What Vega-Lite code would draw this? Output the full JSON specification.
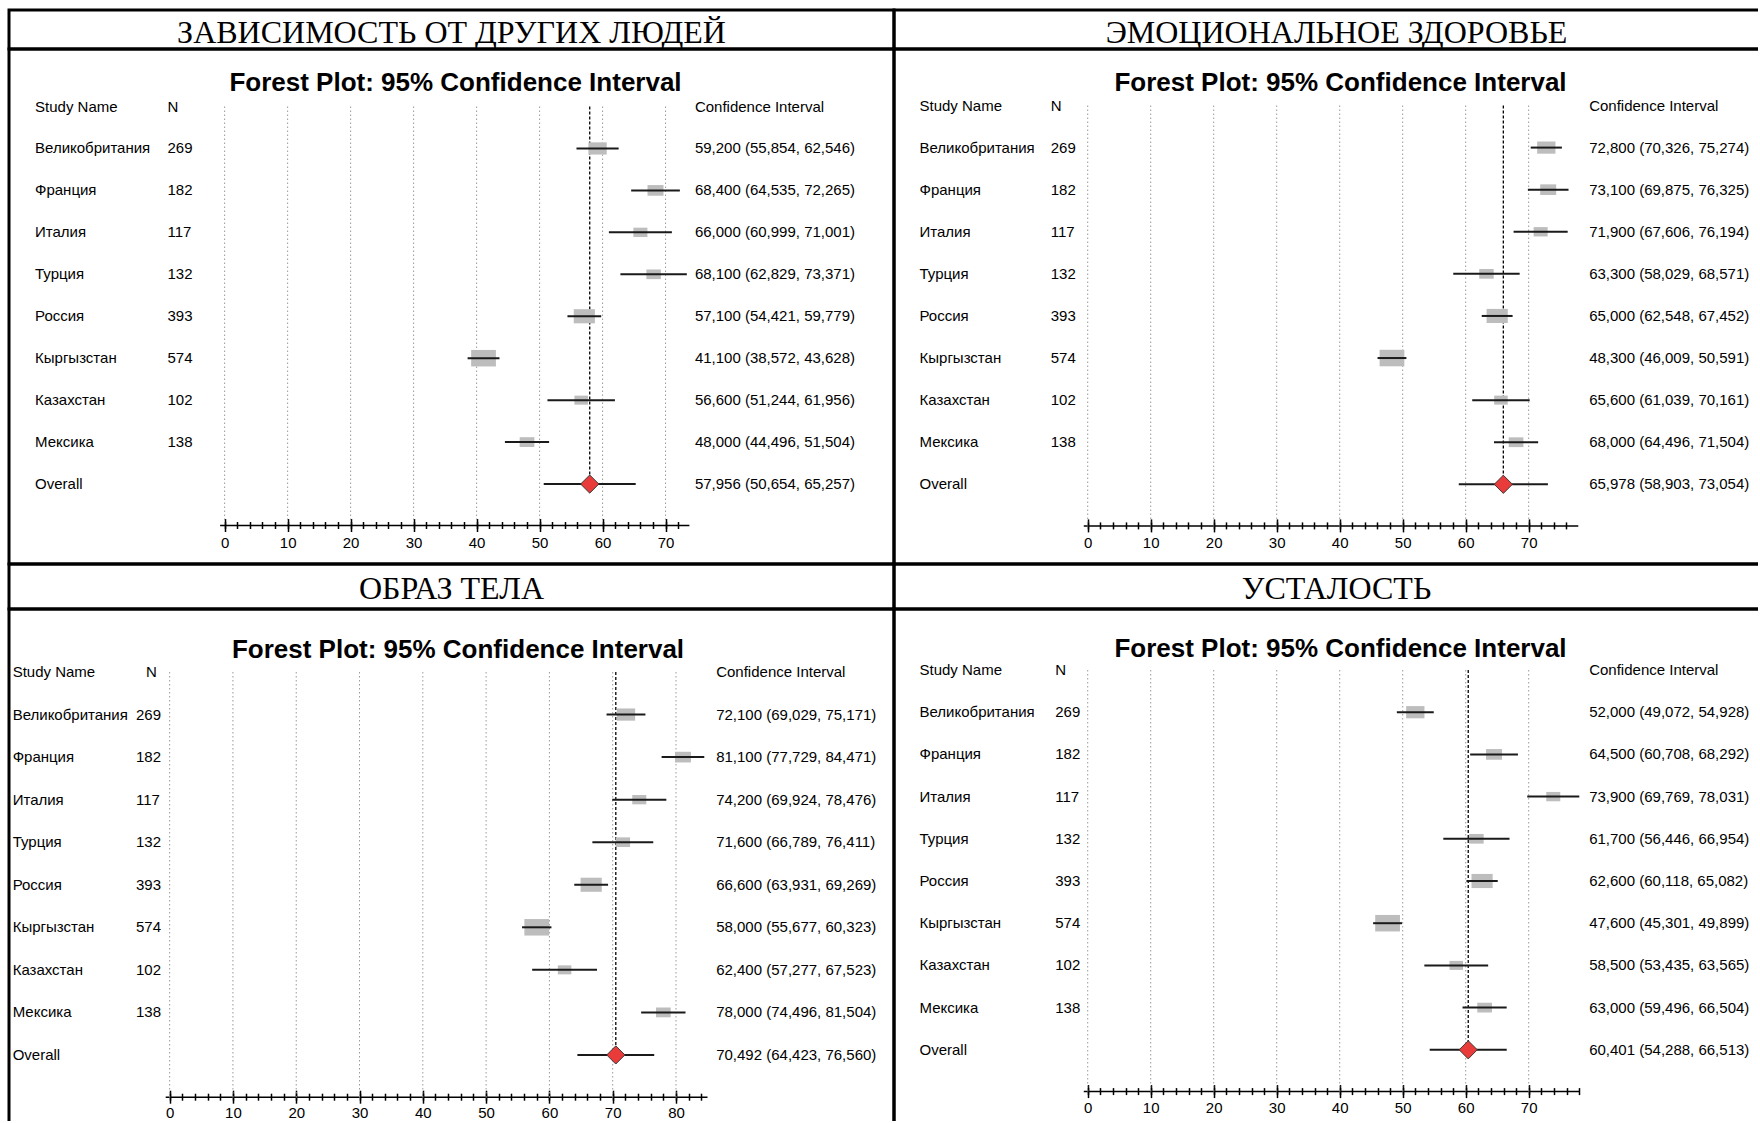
{
  "$schema": "https://vega.github.io/schema/vega-lite/v6.json",
  "background": "white",
  "padding": {"left": 7, "top": 8, "right": -23, "bottom": -5},
  "columns": 2,
  "spacing": 0,
  "bounds": "flush",
  "config": {
    "concat": {"spacing": 0},
    "view": {"stroke": "black", "strokeWidth": 3},
    "text": {"font": "Liberation Sans, Arial, sans-serif", "fontSize": 15, "color": "black"},
    "axis": {"title": null, "grid": false, "labelFont": "Liberation Sans, Arial, sans-serif", "labelFontSize": 15, "labelColor": "black", "domainColor": "black", "tickColor": "black", "labelFlush": false, "labelOverlap": false},
    "title": {"font": "Liberation Sans", "fontSize": 26, "fontWeight": "bold", "color": "black", "anchor": "middle", "baseline": "middle"}
  },
  "datasets": {
    "dep": [
      {"study": "Великобритания", "n": 269, "mean": 59.2, "lo": 55.854, "hi": 62.546, "ci": "59,200 (55,854, 62,546)"},
      {"study": "Франция", "n": 182, "mean": 68.4, "lo": 64.535, "hi": 72.265, "ci": "68,400 (64,535, 72,265)"},
      {"study": "Италия", "n": 117, "mean": 66.0, "lo": 60.999, "hi": 71.001, "ci": "66,000 (60,999, 71,001)"},
      {"study": "Турция", "n": 132, "mean": 68.1, "lo": 62.829, "hi": 73.371, "ci": "68,100 (62,829, 73,371)"},
      {"study": "Россия", "n": 393, "mean": 57.1, "lo": 54.421, "hi": 59.779, "ci": "57,100 (54,421, 59,779)"},
      {"study": "Кыргызстан", "n": 574, "mean": 41.1, "lo": 38.572, "hi": 43.628, "ci": "41,100 (38,572, 43,628)"},
      {"study": "Казахстан", "n": 102, "mean": 56.6, "lo": 51.244, "hi": 61.956, "ci": "56,600 (51,244, 61,956)"},
      {"study": "Мексика", "n": 138, "mean": 48.0, "lo": 44.496, "hi": 51.504, "ci": "48,000 (44,496, 51,504)"},
      {"study": "Overall", "mean": 57.956, "lo": 50.654, "hi": 65.257, "ci": "57,956 (50,654, 65,257)"}
    ],
    "emo": [
      {"study": "Великобритания", "n": 269, "mean": 72.8, "lo": 70.326, "hi": 75.274, "ci": "72,800 (70,326, 75,274)"},
      {"study": "Франция", "n": 182, "mean": 73.1, "lo": 69.875, "hi": 76.325, "ci": "73,100 (69,875, 76,325)"},
      {"study": "Италия", "n": 117, "mean": 71.9, "lo": 67.606, "hi": 76.194, "ci": "71,900 (67,606, 76,194)"},
      {"study": "Турция", "n": 132, "mean": 63.3, "lo": 58.029, "hi": 68.571, "ci": "63,300 (58,029, 68,571)"},
      {"study": "Россия", "n": 393, "mean": 65.0, "lo": 62.548, "hi": 67.452, "ci": "65,000 (62,548, 67,452)"},
      {"study": "Кыргызстан", "n": 574, "mean": 48.3, "lo": 46.009, "hi": 50.591, "ci": "48,300 (46,009, 50,591)"},
      {"study": "Казахстан", "n": 102, "mean": 65.6, "lo": 61.039, "hi": 70.161, "ci": "65,600 (61,039, 70,161)"},
      {"study": "Мексика", "n": 138, "mean": 68.0, "lo": 64.496, "hi": 71.504, "ci": "68,000 (64,496, 71,504)"},
      {"study": "Overall", "mean": 65.978, "lo": 58.903, "hi": 73.054, "ci": "65,978 (58,903, 73,054)"}
    ],
    "body": [
      {"study": "Великобритания", "n": 269, "mean": 72.1, "lo": 69.029, "hi": 75.171, "ci": "72,100 (69,029, 75,171)"},
      {"study": "Франция", "n": 182, "mean": 81.1, "lo": 77.729, "hi": 84.471, "ci": "81,100 (77,729, 84,471)"},
      {"study": "Италия", "n": 117, "mean": 74.2, "lo": 69.924, "hi": 78.476, "ci": "74,200 (69,924, 78,476)"},
      {"study": "Турция", "n": 132, "mean": 71.6, "lo": 66.789, "hi": 76.411, "ci": "71,600 (66,789, 76,411)"},
      {"study": "Россия", "n": 393, "mean": 66.6, "lo": 63.931, "hi": 69.269, "ci": "66,600 (63,931, 69,269)"},
      {"study": "Кыргызстан", "n": 574, "mean": 58.0, "lo": 55.677, "hi": 60.323, "ci": "58,000 (55,677, 60,323)"},
      {"study": "Казахстан", "n": 102, "mean": 62.4, "lo": 57.277, "hi": 67.523, "ci": "62,400 (57,277, 67,523)"},
      {"study": "Мексика", "n": 138, "mean": 78.0, "lo": 74.496, "hi": 81.504, "ci": "78,000 (74,496, 81,504)"},
      {"study": "Overall", "mean": 70.492, "lo": 64.423, "hi": 76.560, "ci": "70,492 (64,423, 76,560)"}
    ],
    "fatigue": [
      {"study": "Великобритания", "n": 269, "mean": 52.0, "lo": 49.072, "hi": 54.928, "ci": "52,000 (49,072, 54,928)"},
      {"study": "Франция", "n": 182, "mean": 64.5, "lo": 60.708, "hi": 68.292, "ci": "64,500 (60,708, 68,292)"},
      {"study": "Италия", "n": 117, "mean": 73.9, "lo": 69.769, "hi": 78.031, "ci": "73,900 (69,769, 78,031)"},
      {"study": "Турция", "n": 132, "mean": 61.7, "lo": 56.446, "hi": 66.954, "ci": "61,700 (56,446, 66,954)"},
      {"study": "Россия", "n": 393, "mean": 62.6, "lo": 60.118, "hi": 65.082, "ci": "62,600 (60,118, 65,082)"},
      {"study": "Кыргызстан", "n": 574, "mean": 47.6, "lo": 45.301, "hi": 49.899, "ci": "47,600 (45,301, 49,899)"},
      {"study": "Казахстан", "n": 102, "mean": 58.5, "lo": 53.435, "hi": 63.565, "ci": "58,500 (53,435, 63,565)"},
      {"study": "Мексика", "n": 138, "mean": 63.0, "lo": 59.496, "hi": 66.504, "ci": "63,000 (59,496, 66,504)"},
      {"study": "Overall", "mean": 60.401, "lo": 54.288, "hi": 66.513, "ci": "60,401 (54,288, 66,513)"}
    ]
  },
  "concat": [
    {"width": 885, "height": 39,
     "layer": [{"data": {"values": [{"t": "ЗАВИСИМОСТЬ ОТ ДРУГИХ ЛЮДЕЙ"}]},
       "mark": {"type": "text", "font": "Liberation Serif", "fontSize": 32, "baseline": "middle", "color": "black"},
       "encoding": {
         "x": {"datum": 0.5, "type": "quantitative", "scale": {"domain": [0, 1]}, "axis": null},
         "y": {"datum": 0.42, "type": "quantitative", "scale": {"domain": [0, 1]}, "axis": null},
         "text": {"field": "t"}}}]},
    {"width": 885, "height": 39,
     "layer": [{"data": {"values": [{"t": "ЭМОЦИОНАЛЬНОЕ ЗДОРОВЬЕ"}]},
       "mark": {"type": "text", "font": "Liberation Serif", "fontSize": 32, "baseline": "middle", "color": "black"},
       "encoding": {
         "x": {"datum": 0.5, "type": "quantitative", "scale": {"domain": [0, 1]}, "axis": null},
         "y": {"datum": 0.42, "type": "quantitative", "scale": {"domain": [0, 1]}, "axis": null},
         "text": {"field": "t"}}}]},
    {
      "width": 885, "height": 515,
      "title": {"text": "Forest Plot: 95% Confidence Interval", "offset": -47, "dx": 4},
      "data": {"name": "dep"},
      "resolve": {"axis": {"x": "independent"}},
      "layer": [
        {
          "data": {"values": [{"v": 0}, {"v": 10}, {"v": 20}, {"v": 30}, {"v": 40}, {"v": 50}, {"v": 60}, {"v": 70}]},
          "mark": {"type": "rule", "stroke": "#9a9a9a", "strokeWidth": 1, "strokeDash": [1.5, 2.5]},
          "encoding": {
            "x": {"field": "v", "type": "quantitative",
                  "scale": {"domain": [-0.8, 73.7], "range": [210.6, 679.9], "nice": false, "zero": false},
                  "axis": {"orient": "bottom", "offset": -39, "values": [0, 10, 20, 30, 40, 50, 60, 70], "ticks": false, "tickSize": 0, "domainWidth": 1.5, "labelPadding": 10}},
            "y": {"datum": "Study Name", "type": "nominal",
                  "scale": {"type": "point", "domain": ["Study Name", "Великобритания", "Франция", "Италия", "Турция", "Россия", "Кыргызстан", "Казахстан", "Мексика", "Overall", "axis"], "range": [57.5, 477], "padding": 0},
                  "axis": null},
            "y2": {"datum": "axis"}
          }
        },
        {
          "transform": [{"filter": "datum.study === 'Overall'"}],
          "mark": {"type": "rule", "stroke": "black", "strokeWidth": 1.3, "strokeDash": [3, 2]},
          "encoding": {
            "x": {"field": "mean", "type": "quantitative",
                  "axis": {"orient": "bottom", "offset": -45.5, "values": [0, 10, 20, 30, 40, 50, 60, 70], "domain": false, "labels": false, "tickSize": 13, "tickWidth": 1.5}},
            "y": {"datum": "Study Name", "type": "nominal", "axis": null},
            "y2": {"datum": "Overall"}
          }
        },
        {
          "transform": [{"filter": "datum.study !== 'Overall'"}],
          "mark": {"type": "point", "shape": "M-1.5,-1L1.5,-1L1.5,1L-1.5,1Z", "filled": true, "fill": "#bdbdbd", "opacity": 1, "strokeWidth": 0},
          "encoding": {
            "x": {"field": "mean", "type": "quantitative",
                  "axis": {"orient": "bottom", "offset": -42.5, "values": [0, 2, 4, 6, 8, 10, 12, 14, 16, 18, 20, 22, 24, 26, 28, 30, 32, 34, 36, 38, 40, 42, 44, 46, 48, 50, 52, 54, 56, 58, 60, 62, 64, 66, 68, 70, 72], "domain": false, "labels": false, "tickSize": 7, "tickWidth": 1.5}},
            "y": {"field": "study", "type": "nominal", "axis": null},
            "size": {"field": "n", "type": "quantitative", "scale": {"domain": [0, 600], "range": [40, 283]}, "legend": null}
          }
        },
        {
          "mark": {"type": "rule", "stroke": "#1a1a1a", "strokeWidth": 2},
          "encoding": {
            "x": {"field": "lo", "type": "quantitative", "axis": null},
            "x2": {"field": "hi"},
            "y": {"field": "study", "type": "nominal", "axis": null}
          }
        },
        {
          "transform": [{"filter": "datum.study === 'Overall'"}],
          "mark": {"type": "point", "shape": "diamond", "size": 330, "filled": true, "fill": "#ea3b3b", "stroke": "#3a3a3a", "strokeWidth": 1, "opacity": 1},
          "encoding": {
            "x": {"field": "mean", "type": "quantitative", "axis": null},
            "y": {"field": "study", "type": "nominal", "axis": null}
          }
        },
        {
          "mark": {"type": "text", "align": "left", "baseline": "middle"},
          "encoding": {
            "x": {"datum": -30.1, "axis": null},
            "y": {"field": "study", "type": "nominal", "axis": null},
            "text": {"field": "study"}
          }
        },
        {
          "transform": [{"filter": "isValid(datum.n)"}],
          "mark": {"type": "text", "align": "left", "baseline": "middle"},
          "encoding": {
            "x": {"datum": -9.07, "axis": null},
            "y": {"field": "study", "type": "nominal", "axis": null},
            "text": {"field": "n", "type": "nominal"}
          }
        },
        {
          "mark": {"type": "text", "align": "left", "baseline": "middle"},
          "encoding": {
            "x": {"datum": 74.65, "axis": null},
            "y": {"field": "study", "type": "nominal", "axis": null},
            "text": {"field": "ci"}
          }
        },
        {
          "data": {"values": [{}]},
          "mark": {"type": "text", "align": "left", "baseline": "middle"},
          "encoding": {"x": {"datum": -30.1, "axis": null}, "y": {"datum": "Study Name", "type": "nominal", "axis": null}, "text": {"value": "Study Name"}}
        },
        {
          "data": {"values": [{}]},
          "mark": {"type": "text", "align": "left", "baseline": "middle"},
          "encoding": {"x": {"datum": -9.07, "axis": null}, "y": {"datum": "Study Name", "type": "nominal", "axis": null}, "text": {"value": "N"}}
        },
        {
          "data": {"values": [{}]},
          "mark": {"type": "text", "align": "left", "baseline": "middle"},
          "encoding": {"x": {"datum": 74.65, "axis": null}, "y": {"datum": "Study Name", "type": "nominal", "axis": null}, "text": {"value": "Confidence Interval"}}
        }
      ]
    },
    {
      "width": 885, "height": 515,
      "title": {"text": "Forest Plot: 95% Confidence Interval", "offset": -47, "dx": 4},
      "data": {"name": "emo"},
      "resolve": {"axis": {"x": "independent"}},
      "layer": [
        {
          "data": {"values": [{"v": 0}, {"v": 10}, {"v": 20}, {"v": 30}, {"v": 40}, {"v": 50}, {"v": 60}, {"v": 70}]},
          "mark": {"type": "rule", "stroke": "#9a9a9a", "strokeWidth": 1, "strokeDash": [1.5, 2.5]},
          "encoding": {
            "x": {"field": "v", "type": "quantitative",
                  "scale": {"domain": [-0.7, 77.8], "range": [189.3, 683.8], "nice": false, "zero": false},
                  "axis": {"orient": "bottom", "offset": -38.6, "values": [0, 10, 20, 30, 40, 50, 60, 70], "ticks": false, "tickSize": 0, "domainWidth": 1.5, "labelPadding": 10}},
            "y": {"datum": "Study Name", "type": "nominal",
                  "scale": {"type": "point", "domain": ["Study Name", "Великобритания", "Франция", "Италия", "Турция", "Россия", "Кыргызстан", "Казахстан", "Мексика", "Overall", "axis"], "range": [56.5, 477.4], "padding": 0},
                  "axis": null},
            "y2": {"datum": "axis"}
          }
        },
        {
          "transform": [{"filter": "datum.study === 'Overall'"}],
          "mark": {"type": "rule", "stroke": "black", "strokeWidth": 1.3, "strokeDash": [3, 2]},
          "encoding": {
            "x": {"field": "mean", "type": "quantitative",
                  "axis": {"orient": "bottom", "offset": -45.1, "values": [0, 10, 20, 30, 40, 50, 60, 70], "domain": false, "labels": false, "tickSize": 13, "tickWidth": 1.5}},
            "y": {"datum": "Study Name", "type": "nominal", "axis": null},
            "y2": {"datum": "Overall"}
          }
        },
        {
          "transform": [{"filter": "datum.study !== 'Overall'"}],
          "mark": {"type": "point", "shape": "M-1.5,-1L1.5,-1L1.5,1L-1.5,1Z", "filled": true, "fill": "#bdbdbd", "opacity": 1, "strokeWidth": 0},
          "encoding": {
            "x": {"field": "mean", "type": "quantitative",
                  "axis": {"orient": "bottom", "offset": -42.1, "values": [0, 2, 4, 6, 8, 10, 12, 14, 16, 18, 20, 22, 24, 26, 28, 30, 32, 34, 36, 38, 40, 42, 44, 46, 48, 50, 52, 54, 56, 58, 60, 62, 64, 66, 68, 70, 72, 74, 76], "domain": false, "labels": false, "tickSize": 7, "tickWidth": 1.5}},
            "y": {"field": "study", "type": "nominal", "axis": null},
            "size": {"field": "n", "type": "quantitative", "scale": {"domain": [0, 600], "range": [40, 283]}, "legend": null}
          }
        },
        {
          "mark": {"type": "rule", "stroke": "#1a1a1a", "strokeWidth": 2},
          "encoding": {
            "x": {"field": "lo", "type": "quantitative", "axis": null},
            "x2": {"field": "hi"},
            "y": {"field": "study", "type": "nominal", "axis": null}
          }
        },
        {
          "transform": [{"filter": "datum.study === 'Overall'"}],
          "mark": {"type": "point", "shape": "diamond", "size": 330, "filled": true, "fill": "#ea3b3b", "stroke": "#3a3a3a", "strokeWidth": 1, "opacity": 1},
          "encoding": {
            "x": {"field": "mean", "type": "quantitative", "axis": null},
            "y": {"field": "study", "type": "nominal", "axis": null}
          }
        },
        {
          "mark": {"type": "text", "align": "left", "baseline": "middle"},
          "encoding": {
            "x": {"datum": -26.7, "axis": null},
            "y": {"field": "study", "type": "nominal", "axis": null},
            "text": {"field": "study"}
          }
        },
        {
          "transform": [{"filter": "isValid(datum.n)"}],
          "mark": {"type": "text", "align": "left", "baseline": "middle"},
          "encoding": {
            "x": {"datum": -5.87, "axis": null},
            "y": {"field": "study", "type": "nominal", "axis": null},
            "text": {"field": "n", "type": "nominal"}
          }
        },
        {
          "mark": {"type": "text", "align": "left", "baseline": "middle"},
          "encoding": {
            "x": {"datum": 79.6, "axis": null},
            "y": {"field": "study", "type": "nominal", "axis": null},
            "text": {"field": "ci"}
          }
        },
        {
          "data": {"values": [{}]},
          "mark": {"type": "text", "align": "left", "baseline": "middle"},
          "encoding": {"x": {"datum": -26.7, "axis": null}, "y": {"datum": "Study Name", "type": "nominal", "axis": null}, "text": {"value": "Study Name"}}
        },
        {
          "data": {"values": [{}]},
          "mark": {"type": "text", "align": "left", "baseline": "middle"},
          "encoding": {"x": {"datum": -5.87, "axis": null}, "y": {"datum": "Study Name", "type": "nominal", "axis": null}, "text": {"value": "N"}}
        },
        {
          "data": {"values": [{}]},
          "mark": {"type": "text", "align": "left", "baseline": "middle"},
          "encoding": {"x": {"datum": 79.6, "axis": null}, "y": {"datum": "Study Name", "type": "nominal", "axis": null}, "text": {"value": "Confidence Interval"}}
        }
      ]
    },
    {"width": 885, "height": 45,
     "layer": [{"data": {"values": [{"t": "ОБРАЗ ТЕЛА"}]},
       "mark": {"type": "text", "font": "Liberation Serif", "fontSize": 32, "baseline": "middle", "color": "black"},
       "encoding": {
         "x": {"datum": 0.5, "type": "quantitative", "scale": {"domain": [0, 1]}, "axis": null},
         "y": {"datum": 0.445, "type": "quantitative", "scale": {"domain": [0, 1]}, "axis": null},
         "text": {"field": "t"}}}]},
    {"width": 885, "height": 45,
     "layer": [{"data": {"values": [{"t": "УСТАЛОСТЬ"}]},
       "mark": {"type": "text", "font": "Liberation Serif", "fontSize": 32, "baseline": "middle", "color": "black"},
       "encoding": {
         "x": {"datum": 0.5, "type": "quantitative", "scale": {"domain": [0, 1]}, "axis": null},
         "y": {"datum": 0.445, "type": "quantitative", "scale": {"domain": [0, 1]}, "axis": null},
         "text": {"field": "t"}}}]},
    {
      "width": 885, "height": 515,
      "title": {"text": "Forest Plot: 95% Confidence Interval", "offset": -53.5, "dx": 6.5},
      "data": {"name": "body"},
      "resolve": {"axis": {"x": "independent"}},
      "layer": [
        {
          "data": {"values": [{"v": 0}, {"v": 10}, {"v": 20}, {"v": 30}, {"v": 40}, {"v": 50}, {"v": 60}, {"v": 70}, {"v": 80}]},
          "mark": {"type": "rule", "stroke": "#9a9a9a", "strokeWidth": 1, "strokeDash": [1.5, 2.5]},
          "encoding": {
            "x": {"field": "v", "type": "quantitative",
                  "scale": {"domain": [-0.7, 84.9], "range": [156.2, 698.0], "nice": false, "zero": false},
                  "axis": {"orient": "bottom", "offset": -27.3, "values": [0, 10, 20, 30, 40, 50, 60, 70, 80], "ticks": false, "tickSize": 0, "domainWidth": 1.5, "labelPadding": 9}},
            "y": {"datum": "Study Name", "type": "nominal",
                  "scale": {"type": "point", "domain": ["Study Name", "Великобритания", "Франция", "Италия", "Турция", "Россия", "Кыргызстан", "Казахстан", "Мексика", "Overall", "axis"], "range": [63, 488.5], "padding": 0},
                  "axis": null},
            "y2": {"datum": "axis"}
          }
        },
        {
          "transform": [{"filter": "datum.study === 'Overall'"}],
          "mark": {"type": "rule", "stroke": "black", "strokeWidth": 1.3, "strokeDash": [3, 2]},
          "encoding": {
            "x": {"field": "mean", "type": "quantitative",
                  "axis": {"orient": "bottom", "offset": -33.8, "values": [0, 10, 20, 30, 40, 50, 60, 70, 80], "domain": false, "labels": false, "tickSize": 13, "tickWidth": 1.5}},
            "y": {"datum": "Study Name", "type": "nominal", "axis": null},
            "y2": {"datum": "Overall"}
          }
        },
        {
          "transform": [{"filter": "datum.study !== 'Overall'"}],
          "mark": {"type": "point", "shape": "M-1.5,-1L1.5,-1L1.5,1L-1.5,1Z", "filled": true, "fill": "#bdbdbd", "opacity": 1, "strokeWidth": 0},
          "encoding": {
            "x": {"field": "mean", "type": "quantitative",
                  "axis": {"orient": "bottom", "offset": -30.8, "values": [0, 2, 4, 6, 8, 10, 12, 14, 16, 18, 20, 22, 24, 26, 28, 30, 32, 34, 36, 38, 40, 42, 44, 46, 48, 50, 52, 54, 56, 58, 60, 62, 64, 66, 68, 70, 72, 74, 76, 78, 80, 82, 84], "domain": false, "labels": false, "tickSize": 7, "tickWidth": 1.5}},
            "y": {"field": "study", "type": "nominal", "axis": null},
            "size": {"field": "n", "type": "quantitative", "scale": {"domain": [0, 600], "range": [40, 283]}, "legend": null}
          }
        },
        {
          "mark": {"type": "rule", "stroke": "#1a1a1a", "strokeWidth": 2},
          "encoding": {
            "x": {"field": "lo", "type": "quantitative", "axis": null},
            "x2": {"field": "hi"},
            "y": {"field": "study", "type": "nominal", "axis": null}
          }
        },
        {
          "transform": [{"filter": "datum.study === 'Overall'"}],
          "mark": {"type": "point", "shape": "diamond", "size": 330, "filled": true, "fill": "#ea3b3b", "stroke": "#3a3a3a", "strokeWidth": 1, "opacity": 1},
          "encoding": {
            "x": {"field": "mean", "type": "quantitative", "axis": null},
            "y": {"field": "study", "type": "nominal", "axis": null}
          }
        },
        {
          "mark": {"type": "text", "align": "left", "baseline": "middle"},
          "encoding": {
            "x": {"datum": -24.8, "axis": null},
            "y": {"field": "study", "type": "nominal", "axis": null},
            "text": {"field": "study"}
          }
        },
        {
          "transform": [{"filter": "isValid(datum.n)"}],
          "mark": {"type": "text", "align": "left", "baseline": "middle"},
          "encoding": {
            "x": {"datum": -5.31, "axis": null},
            "y": {"field": "study", "type": "nominal", "axis": null},
            "text": {"field": "n", "type": "nominal"}
          }
        },
        {
          "mark": {"type": "text", "align": "left", "baseline": "middle"},
          "encoding": {
            "x": {"datum": 86.35, "axis": null},
            "y": {"field": "study", "type": "nominal", "axis": null},
            "text": {"field": "ci"}
          }
        },
        {
          "data": {"values": [{}]},
          "mark": {"type": "text", "align": "left", "baseline": "middle"},
          "encoding": {"x": {"datum": -24.8, "axis": null}, "y": {"datum": "Study Name", "type": "nominal", "axis": null}, "text": {"value": "Study Name"}}
        },
        {
          "data": {"values": [{}]},
          "mark": {"type": "text", "align": "left", "baseline": "middle"},
          "encoding": {"x": {"datum": -3.73, "axis": null}, "y": {"datum": "Study Name", "type": "nominal", "axis": null}, "text": {"value": "N"}}
        },
        {
          "data": {"values": [{}]},
          "mark": {"type": "text", "align": "left", "baseline": "middle"},
          "encoding": {"x": {"datum": 86.35, "axis": null}, "y": {"datum": "Study Name", "type": "nominal", "axis": null}, "text": {"value": "Confidence Interval"}}
        }
      ]
    },
    {
      "width": 885, "height": 515,
      "title": {"text": "Forest Plot: 95% Confidence Interval", "offset": -52.5, "dx": 4},
      "data": {"name": "fatigue"},
      "resolve": {"axis": {"x": "independent"}},
      "layer": [
        {
          "data": {"values": [{"v": 0}, {"v": 10}, {"v": 20}, {"v": 30}, {"v": 40}, {"v": 50}, {"v": 60}, {"v": 70}]},
          "mark": {"type": "rule", "stroke": "#9a9a9a", "strokeWidth": 1, "strokeDash": [1.5, 2.5]},
          "encoding": {
            "x": {"field": "v", "type": "quantitative",
                  "scale": {"domain": [-0.7, 78.0], "range": [189.3, 685.1], "nice": false, "zero": false},
                  "axis": {"orient": "bottom", "offset": -32.9, "values": [0, 10, 20, 30, 40, 50, 60, 70], "ticks": false, "tickSize": 0, "domainWidth": 1.5, "labelPadding": 9}},
            "y": {"datum": "Study Name", "type": "nominal",
                  "scale": {"type": "point", "domain": ["Study Name", "Великобритания", "Франция", "Италия", "Турция", "Россия", "Кыргызстан", "Казахстан", "Мексика", "Overall", "axis"], "range": [61, 483], "padding": 0},
                  "axis": null},
            "y2": {"datum": "axis"}
          }
        },
        {
          "transform": [{"filter": "datum.study === 'Overall'"}],
          "mark": {"type": "rule", "stroke": "black", "strokeWidth": 1.3, "strokeDash": [3, 2]},
          "encoding": {
            "x": {"field": "mean", "type": "quantitative",
                  "axis": {"orient": "bottom", "offset": -39.4, "values": [0, 10, 20, 30, 40, 50, 60, 70], "domain": false, "labels": false, "tickSize": 13, "tickWidth": 1.5}},
            "y": {"datum": "Study Name", "type": "nominal", "axis": null},
            "y2": {"datum": "Overall"}
          }
        },
        {
          "transform": [{"filter": "datum.study !== 'Overall'"}],
          "mark": {"type": "point", "shape": "M-1.5,-1L1.5,-1L1.5,1L-1.5,1Z", "filled": true, "fill": "#bdbdbd", "opacity": 1, "strokeWidth": 0},
          "encoding": {
            "x": {"field": "mean", "type": "quantitative",
                  "axis": {"orient": "bottom", "offset": -36.4, "values": [0, 2, 4, 6, 8, 10, 12, 14, 16, 18, 20, 22, 24, 26, 28, 30, 32, 34, 36, 38, 40, 42, 44, 46, 48, 50, 52, 54, 56, 58, 60, 62, 64, 66, 68, 70, 72, 74, 76, 78], "domain": false, "labels": false, "tickSize": 7, "tickWidth": 1.5}},
            "y": {"field": "study", "type": "nominal", "axis": null},
            "size": {"field": "n", "type": "quantitative", "scale": {"domain": [0, 600], "range": [40, 283]}, "legend": null}
          }
        },
        {
          "mark": {"type": "rule", "stroke": "#1a1a1a", "strokeWidth": 2},
          "encoding": {
            "x": {"field": "lo", "type": "quantitative", "axis": null},
            "x2": {"field": "hi"},
            "y": {"field": "study", "type": "nominal", "axis": null}
          }
        },
        {
          "transform": [{"filter": "datum.study === 'Overall'"}],
          "mark": {"type": "point", "shape": "diamond", "size": 330, "filled": true, "fill": "#ea3b3b", "stroke": "#3a3a3a", "strokeWidth": 1, "opacity": 1},
          "encoding": {
            "x": {"field": "mean", "type": "quantitative", "axis": null},
            "y": {"field": "study", "type": "nominal", "axis": null}
          }
        },
        {
          "mark": {"type": "text", "align": "left", "baseline": "middle"},
          "encoding": {
            "x": {"datum": -26.7, "axis": null},
            "y": {"field": "study", "type": "nominal", "axis": null},
            "text": {"field": "study"}
          }
        },
        {
          "transform": [{"filter": "isValid(datum.n)"}],
          "mark": {"type": "text", "align": "left", "baseline": "middle"},
          "encoding": {
            "x": {"datum": -5.16, "axis": null},
            "y": {"field": "study", "type": "nominal", "axis": null},
            "text": {"field": "n", "type": "nominal"}
          }
        },
        {
          "mark": {"type": "text", "align": "left", "baseline": "middle"},
          "encoding": {
            "x": {"datum": 79.6, "axis": null},
            "y": {"field": "study", "type": "nominal", "axis": null},
            "text": {"field": "ci"}
          }
        },
        {
          "data": {"values": [{}]},
          "mark": {"type": "text", "align": "left", "baseline": "middle"},
          "encoding": {"x": {"datum": -26.7, "axis": null}, "y": {"datum": "Study Name", "type": "nominal", "axis": null}, "text": {"value": "Study Name"}}
        },
        {
          "data": {"values": [{}]},
          "mark": {"type": "text", "align": "left", "baseline": "middle"},
          "encoding": {"x": {"datum": -5.16, "axis": null}, "y": {"datum": "Study Name", "type": "nominal", "axis": null}, "text": {"value": "N"}}
        },
        {
          "data": {"values": [{}]},
          "mark": {"type": "text", "align": "left", "baseline": "middle"},
          "encoding": {"x": {"datum": 79.6, "axis": null}, "y": {"datum": "Study Name", "type": "nominal", "axis": null}, "text": {"value": "Confidence Interval"}}
        }
      ]
    }
  ]
}
